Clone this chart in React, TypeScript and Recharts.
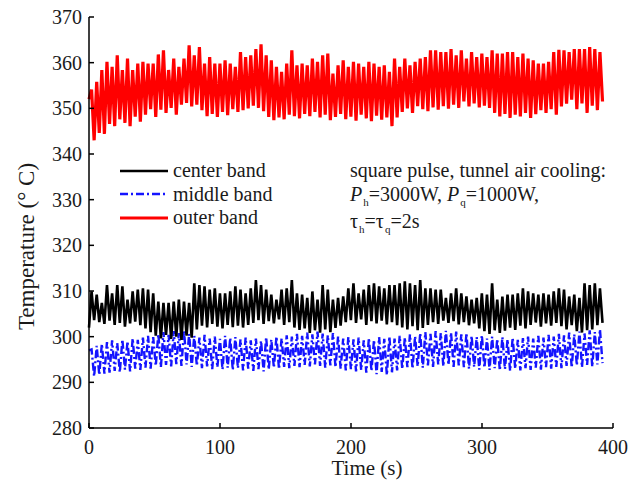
import React from 'react';
import { LineChart, Line, XAxis, YAxis } from 'recharts';

// time grid: square pulse, each half period ~1.96 s
const HALF_PERIOD = 1.96;
const xTicks = [0, 100, 200, 300, 400];
const yTicks = [280, 290, 300, 310, 320, 330, 340, 350, 360, 370];

const startValues = { center: 302.0, middle: 297.0, outer: 352.0 };

const outerPeaks = [
  354.1, 355.8, 358.4, 360.2, 359.1, 361.6, 358.4, 360.9, 358.4, 359.8,
  360.2, 359.8, 359.8, 361.8, 362.7, 358.4, 360.9, 359.1, 360.9, 363.8,
  361.6, 363.4, 359.8, 361.2, 359.8, 359.8, 360.5, 359.8, 359.1, 362.3,
  361.2, 361.6, 363.0, 364.0,
  361.6, 360.5, 359.1, 358.0, 359.8, 362.7, 359.4, 359.8, 359.4, 360.9,
  360.2, 361.6, 362.0, 357.6, 359.4, 360.5, 359.1, 360.2, 359.8, 359.1,
  360.2, 359.8, 359.1, 359.4, 358.0, 360.9, 359.1, 360.9, 359.4, 360.2,
  360.9, 361.2, 362.7, 362.7,
  362.3, 362.3, 363.0, 361.6, 362.7, 360.9, 362.3, 361.2, 362.0, 361.2,
  362.7, 362.0, 362.0, 362.3, 362.3, 361.2, 362.0, 360.9, 360.5, 359.8,
  359.8, 360.2, 362.3, 362.8, 362.7, 362.3, 363.0, 363.0, 363.0, 363.4,
  363.0, 362.3,
];

const outerTroughs = [
  343.0, 344.6, 344.4, 346.6, 346.1, 347.6, 346.8, 346.1, 348.2, 347.1,
  348.6, 349.8, 348.1, 349.7, 349.0, 350.1, 348.6, 350.8, 351.2, 350.4,
  350.8, 349.6, 348.3, 348.8, 348.1, 349.2, 348.5, 349.8, 349.2, 349.6,
  350.0, 350.6, 350.1, 349.4, 348.1, 347.4, 348.0, 347.6, 348.6, 348.3,
  347.8, 348.8, 348.3, 349.2, 348.0, 348.6, 347.4, 348.1, 348.8, 347.6,
  348.2, 347.3, 348.6, 347.8, 347.2, 348.4, 347.5, 348.0, 346.1, 348.0,
  349.2, 350.0, 349.0, 350.5, 349.8, 349.4, 350.2, 349.7, 350.5, 349.9,
  350.8, 350.1, 351.5, 350.4, 351.1, 350.2, 350.6, 350.1, 349.0, 348.2,
  348.8, 347.9, 348.6, 348.2, 349.0, 347.9, 348.7, 349.6, 349.0, 349.8,
  348.6, 350.4, 351.0, 351.9, 349.8, 351.1, 349.0, 350.6, 349.6, 351.5,
];

const centerPeaks = [
  309.9, 309.2, 307.4, 311.3, 309.5, 311.3, 311.0, 308.1, 309.9, 310.3,
  310.6, 310.3, 309.5, 307.7, 307.4, 307.4, 307.7, 308.1, 307.7, 307.4,
  311.7, 311.3, 311.0, 310.3, 310.6, 309.5, 309.5, 309.9, 311.0, 310.3,
  309.5, 310.6, 312.4, 311.3, 310.3,
  309.2, 308.1, 310.3, 310.6, 312.4, 309.5, 309.2, 308.5, 309.9, 308.1,
  311.3, 310.3, 308.1, 308.5, 308.8, 310.6, 311.7, 309.5, 310.3, 311.3,
  311.7, 311.0, 310.6, 311.3, 311.3, 311.7, 312.1, 311.7, 311.3, 312.4,
  310.6, 310.6, 310.3, 310.3,
  308.5, 309.5, 310.6, 309.5, 308.8, 308.1, 308.5, 309.5, 309.2, 311.7,
  308.1, 308.8, 309.2, 309.2, 309.5, 310.6, 309.9, 309.5, 309.2, 309.5,
  309.2, 309.9, 310.6, 310.3, 308.8, 309.2, 308.5, 311.7, 311.3, 311.7,
  310.6,
];

const centerTroughs = [
  303.6, 303.2, 302.8, 303.5, 302.6, 303.0, 302.2, 302.9, 303.3, 302.5,
  301.8, 301.0, 300.2, 299.6, 300.4, 299.5, 300.0, 299.3, 300.2, 299.8,
  301.6, 302.4, 302.0, 302.8, 302.2, 301.8, 302.6, 302.1, 302.4, 302.0,
  302.6, 303.0, 303.6, 302.8, 303.4, 302.9, 303.8, 302.6, 303.2, 302.0,
  301.5, 301.8, 300.8, 301.4, 300.9, 301.6, 301.0, 301.9, 302.4, 303.2,
  303.6, 303.0, 303.8, 302.6, 303.4, 302.9, 303.5, 302.7, 303.2, 302.5,
  302.0, 301.6, 302.3, 301.4, 301.9, 302.6, 303.2, 302.8, 303.5, 303.0,
  303.4, 302.7, 303.2, 302.5, 302.9, 301.8, 301.2, 300.6, 301.4, 300.8,
  301.3, 302.0, 301.5, 302.4, 301.8, 302.6, 303.1, 302.2, 302.9, 302.4,
  303.0, 302.3, 301.6, 302.5, 301.2, 300.9, 301.4, 301.6, 302.5, 303.0,
];

const middlePeaks = [
  297.2, 298.0, 298.4, 298.8, 299.2, 298.6, 299.4, 299.0, 299.6, 299.3,
  299.8, 300.2, 299.9, 300.6, 301.0, 300.4, 301.2, 300.8, 301.4, 300.6,
  300.2, 299.8, 300.4, 299.6, 300.0, 299.5, 300.2, 299.7, 299.9, 299.4,
  299.8, 299.2, 299.6, 299.1, 299.9, 299.4, 300.0, 299.6, 300.3, 300.0,
  300.6, 300.2, 300.9, 300.5, 301.1, 300.7, 300.3, 300.8, 300.0, 299.6,
  299.9, 299.4, 299.8, 299.2, 299.7, 299.3, 299.9, 299.5, 300.0, 299.6,
  300.2, 299.8, 300.5, 300.1, 300.8, 301.0, 300.6, 301.2, 300.8, 301.3,
  300.9, 301.1, 300.5, 300.8, 300.2, 299.9, 300.3, 299.6, 300.0, 299.5,
  299.9, 299.4, 299.8, 299.3, 299.7, 300.0, 299.6, 300.2, 299.8, 300.4,
  300.0, 300.6, 300.3, 300.9, 300.5, 301.1, 300.7, 301.4, 301.0, 301.6,
];

const middleTroughs = [
  291.3, 291.6, 291.9, 292.1, 292.5, 292.2, 292.8, 292.4, 293.0, 292.7,
  293.2, 293.0, 293.6, 293.3, 293.8, 293.5, 294.0, 293.6, 293.9, 293.4,
  293.6, 293.1, 293.5, 292.9, 293.3, 292.8, 293.2, 292.7, 293.1, 292.6,
  293.0, 292.5, 292.9, 292.4, 292.8, 293.2, 292.9, 293.4, 293.1, 293.6,
  293.3, 293.8, 293.5, 293.9, 293.6, 293.2, 293.7, 293.3, 293.0, 292.6,
  292.9, 292.4, 292.7, 292.1, 292.5, 291.8, 292.3, 291.6, 292.2, 292.6,
  292.9, 293.3, 293.0, 293.5, 293.2, 293.7, 293.4, 293.9, 293.5, 293.8,
  293.4, 293.7, 293.3, 293.0, 293.4, 292.8, 293.2, 292.7, 293.1, 292.6,
  292.9, 292.5, 293.0, 292.6, 293.1, 292.7, 293.2, 292.8, 293.3, 293.0,
  293.4, 293.1, 293.6, 293.2, 293.7, 293.3, 293.8, 293.4, 293.9, 294.2,
];

type Row = { t: number; center: number; middle: number; outer: number };
const data: Row[] = [{ t: 0, ...startValues }];
for (let k = 0; k < outerPeaks.length; k++) {
  data.push({
    t: Math.round((2 * k + 1) * HALF_PERIOD * 100) / 100,
    center: centerPeaks[k],
    middle: middlePeaks[k],
    outer: outerPeaks[k],
  });
  data.push({
    t: Math.round((2 * k + 2) * HALF_PERIOD * 100) / 100,
    center: centerTroughs[k],
    middle: middleTroughs[k],
    outer: outerTroughs[k],
  });
}

const FONT = "'Liberation Serif', 'Times New Roman', serif";
const TEXT = '#1a1a1a';

const series = [
  { key: 'center', name: 'center band', color: '#000000', width: 2.6, dash: undefined as string | undefined },
  { key: 'middle', name: 'middle band', color: '#1414ff', width: 2.4, dash: '8 3 2 3' },
  { key: 'outer', name: 'outer band', color: '#ff0000', width: 3.2, dash: undefined as string | undefined },
];

const LegendBox = () => (
  <div style={{ position: 'absolute', left: 119, top: 159, fontFamily: FONT, fontSize: 20, color: TEXT, whiteSpace: 'nowrap' }}>
    {series.map((s) => (
      <div key={s.key} style={{ height: 23.5, display: 'flex', alignItems: 'center' }}>
        <svg width={50} height={10} style={{ marginRight: 4 }}>
          <line x1={1} y1={5} x2={49} y2={5} stroke={s.color} strokeWidth={s.width} strokeDasharray={s.dash} />
        </svg>
        <span style={{ lineHeight: '23px' }}>{s.name}</span>
      </div>
    ))}
  </div>
);

const subStyle: React.CSSProperties = { fontSize: 11, position: 'relative', top: 5, marginLeft: 1, lineHeight: '11px' };

const YLabel = (props: any) => {
  const vb = props.viewBox || { x: 29, y: 17, width: 60, height: 411 };
  const cx = vb.x - 3;
  const cy = vb.y + vb.height / 2 + 24;
  return (
    <text x={cx} y={cy} transform={`rotate(-90 ${cx} ${cy})`} textAnchor="middle" dominantBaseline="central"
      style={{ fontFamily: FONT, fontSize: 23, fill: TEXT }}>
      Temperature (° C)
    </text>
  );
};

const XLabel = (props: any) => {
  const vb = props.viewBox || { x: 89, y: 428, width: 524, height: 40 };
  const cx = vb.x + vb.width / 2 + 16;
  const cy = vb.y + 40;
  return (
    <text x={cx} y={cy} textAnchor="middle" dominantBaseline="central"
      style={{ fontFamily: FONT, fontSize: 21, fill: TEXT }}>
      Time (s)
    </text>
  );
};

export default function App() {
  return (
    <div style={{ position: 'absolute', left: 0, top: 0, width: 640, height: 481, background: '#fff' }}>
      <LineChart width={640} height={481} data={data} margin={{ top: 17, right: 27, bottom: 13, left: 29 }}>
        <XAxis
          dataKey="t"
          type="number"
          domain={[0, 400]}
          ticks={xTicks}
          height={40}
          tickSize={-5}
          tickMargin={17}
          axisLine={{ stroke: '#000', strokeWidth: 1.5 }}
          tickLine={{ stroke: '#000', strokeWidth: 1.5 }}
          tick={{ fontFamily: FONT, fontSize: 20, fill: TEXT }}
          label={XLabel}
        />
        <YAxis
          type="number"
          domain={[280, 370]}
          ticks={yTicks}
          width={60}
          tickSize={-5}
          tickMargin={12}
          axisLine={{ stroke: '#000', strokeWidth: 1.5 }}
          tickLine={{ stroke: '#000', strokeWidth: 1.5 }}
          tick={{ fontFamily: FONT, fontSize: 20, fill: TEXT }}
          label={YLabel}
        />
        <Line dataKey="middle" name="middle band" type="linear" stroke="#1414ff" strokeWidth={2.4}
          strokeDasharray="8 3 2 3" dot={false} isAnimationActive={false} />
        <Line dataKey="center" name="center band" type="linear" stroke="#000000" strokeWidth={2.6}
          dot={false} isAnimationActive={false} />
        <Line dataKey="outer" name="outer band" type="linear" stroke="#ff0000" strokeWidth={3.2}
          dot={false} isAnimationActive={false} />
      </LineChart>
      <LegendBox />
      <div style={{ position: 'absolute', left: 350, top: 158, fontFamily: FONT, fontSize: 20, color: TEXT, whiteSpace: 'nowrap' }}>
        <div style={{ height: 24, lineHeight: '24px' }}>square pulse, tunnel air cooling:</div>
        <div style={{ height: 27, lineHeight: '24px' }}>
          <i>P</i><span style={subStyle}>h</span>=3000W, <i>P</i><span style={subStyle}>q</span>=1000W,
        </div>
        <div style={{ height: 24, lineHeight: '24px' }}>
          τ<span style={subStyle}>h</span>=τ<span style={subStyle}>q</span>=2s
        </div>
      </div>
    </div>
  );
}
